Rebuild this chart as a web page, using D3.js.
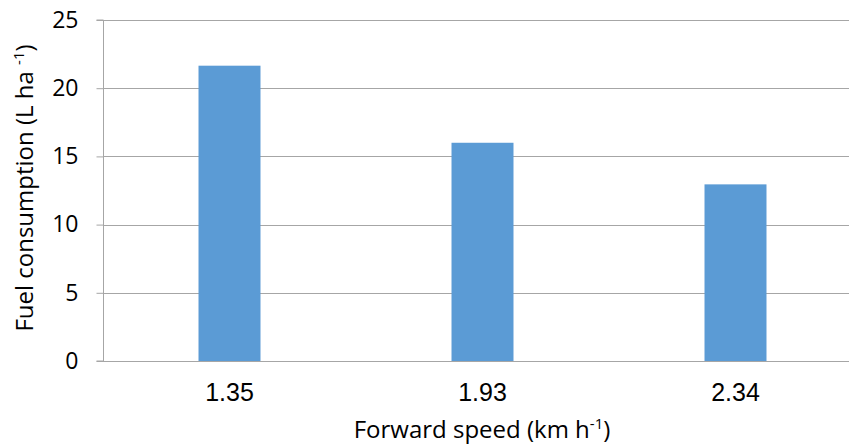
<!DOCTYPE html>
<html><head><meta charset="utf-8">
<script src="https://cdn.jsdelivr.net/npm/d3@7"></script>
<style>body{margin:0;background:#fff}svg{display:block}</style>
</head><body>
<script>
const categories = ["1.35", "1.93", "2.34"];
const values = [21.65, 16.0, 12.95];
const yTicks = [0, 5, 10, 15, 20, 25];

const W = 849, H = 445;
const m = {left: 103, top: 20, bottom: 84};
const plotRight = 862;
const svg = d3.select("body").append("svg").attr("width", W).attr("height", H);

const x = d3.scaleBand().domain(categories).range([m.left, plotRight]).padding(0);
const y = d3.scaleLinear().domain([0, 25]).range([H - m.bottom, m.top]);

const grid = "#a6a6a6";
// gridlines
svg.append("g").selectAll("line").data(yTicks.filter(d => d > 0)).join("line")
  .attr("x1", m.left).attr("x2", plotRight)
  .attr("y1", d => Math.round(y(d)) + 0.5).attr("y2", d => Math.round(y(d)) + 0.5)
  .attr("stroke", grid).attr("stroke-width", 1);

// bars
const bw = x.bandwidth() * 0.245;
svg.append("g").selectAll("rect").data(values).join("rect")
  .attr("x", (d, i) => x(categories[i]) + x.bandwidth() / 2 - bw / 2)
  .attr("width", bw)
  .attr("y", d => y(d))
  .attr("height", d => y(0) - y(d))
  .attr("fill", "#5b9bd5");

// y axis
const yAxis = d3.axisLeft(y).tickValues(yTicks).tickSize(7).tickPadding(18);
const gy = svg.append("g").attr("transform", `translate(${m.left + 0.5},0)`).call(yAxis);
gy.select(".domain").attr("stroke", grid).attr("d", `M-7,${m.top}H0V${y(0)}H-7`);
gy.selectAll(".tick line").attr("stroke", grid);
gy.selectAll(".tick text").attr("font-family", "'Open Sans', sans-serif").attr("font-size", 23).attr("fill", "#000");

// x axis
const xAxis = d3.axisBottom(x).tickSize(0).tickPadding(22);
const gx = svg.append("g").attr("transform", `translate(0,${Math.round(y(0)) + 0.5})`).call(xAxis);
gx.select(".domain").attr("stroke", grid).attr("d", `M${m.left},0H${plotRight}`);
gx.selectAll(".tick text").attr("font-family", "'Liberation Sans', Arial, sans-serif").attr("font-size", 25).attr("fill", "#000");

// y title
const yt = svg.append("text")
  .attr("transform", `translate(33,188) rotate(-90)`)
  .attr("text-anchor", "middle")
  .attr("font-family", "'Open Sans', sans-serif").attr("font-size", 24).attr("fill", "#000");
yt.append("tspan").text("Fuel consumption (L ha ");
yt.append("tspan").attr("dy", -9).attr("font-size", 15).text("-1");
yt.append("tspan").attr("dy", 9).text(")");

// x title
const xt = svg.append("text")
  .attr("x", 482).attr("y", 438)
  .attr("text-anchor", "middle")
  .attr("font-family", "'Open Sans', sans-serif").attr("font-size", 24).attr("fill", "#000");
xt.append("tspan").text("Forward speed (km h");
xt.append("tspan").attr("dy", -9).attr("font-size", 15).text("-1");
xt.append("tspan").attr("dy", 9).text(")");
</script>
</body></html>
